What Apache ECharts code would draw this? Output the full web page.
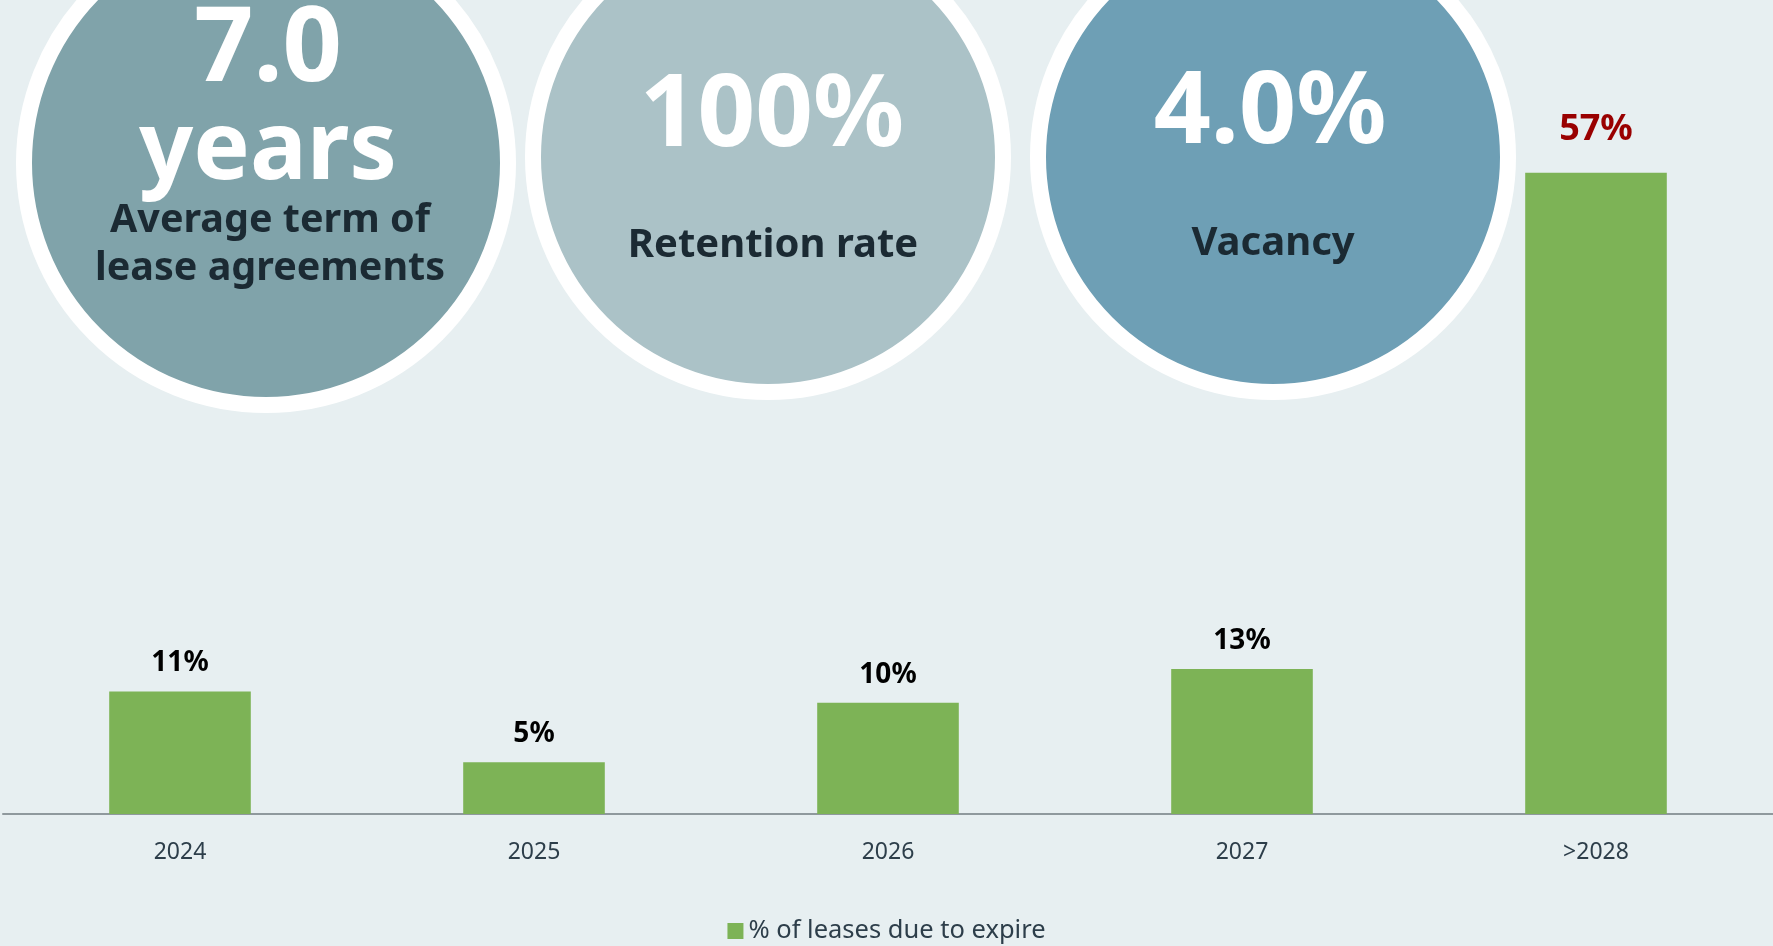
<!DOCTYPE html>
<html>
<head>
<meta charset="utf-8">
<script src="https://cdn.jsdelivr.net/npm/echarts@6/dist/echarts.min.js"></script>
<style>
  html, body { margin: 0; padding: 0; background: #e7eff1; }
  #chart { width: 1773px; height: 946px; }
</style>
</head>
<body>
<div id="chart"></div>
<script>
const categories = ['2024', '2025', '2026', '2027', '>2028'];
const leaseExpiry = [10.9, 4.6, 9.9, 12.9, 57.0];
const seriesName = '% of leases due to expire';

const kpiValues = ['7.0', '100%', '4.0%'];
const kpiUnits = ['years', '', ''];
const kpiLabels = [['Average term of', 'lease agreements'], ['Retention rate'], ['Vacancy']];

const font = '"Noto Sans", sans-serif';
const dark = '#1b2a33';

// circle badges across the top
const circles = [
  { cx: 266, cy: 163, r: 234, fill: '#80a3aa' },
  { cx: 768, cy: 157, r: 227, fill: '#abc2c7' },
  { cx: 1273, cy: 157, r: 227, fill: '#6e9fb5' }
];

const graphics = [];
circles.forEach(c => {
  graphics.push({
    type: 'circle', z: 1,
    shape: { cx: c.cx, cy: c.cy, r: c.r + 8 },
    style: { fill: c.fill, stroke: '#ffffff', lineWidth: 16 }
  });
});

function txt(text, x, y, size, color) {
  return { type: 'text', z: 2, style: { text: text, x: x, y: y, fill: color, font: 'bold ' + size + 'px ' + font, textAlign: 'center', textVerticalAlign: 'middle' } };
}

// 7.0 years
graphics.push(txt(kpiValues[0], 268, 51, 104, '#fff'));
graphics.push(txt(kpiUnits[0], 268, 152, 95, '#fff'));
graphics.push(txt(kpiLabels[0][0], 270, 221, 39.5, dark));
graphics.push(txt(kpiLabels[0][1], 270, 269, 39.5, dark));
// 100%
graphics.push(txt(kpiValues[1], 772, 117, 101, '#fff'));
graphics.push(txt(kpiLabels[1][0], 773, 246, 40, dark));
// 4.0%
graphics.push(txt(kpiValues[2], 1270, 115, 100, '#fff'));
graphics.push(txt(kpiLabels[2][0], 1273, 244, 40, dark));

const chart = echarts.init(document.getElementById('chart'));
chart.setOption({
  backgroundColor: '#e7eff1',
  animation: false,
  textStyle: { fontFamily: font },
  grid: { left: 3, right: -3, top: 139, bottom: 132 },
  legend: {
    data: [seriesName],
    left: 'center',
    top: 913,
    icon: 'rect',
    itemWidth: 16,
    itemHeight: 16,
    itemGap: 6,
    textStyle: { fontSize: 25.5, color: '#2d3e4a', fontFamily: font }
  },
  xAxis: {
    type: 'category',
    data: categories,
    axisTick: { show: false },
    axisLine: { lineStyle: { color: '#8f999d', width: 2 } },
    axisLabel: { fontSize: 23, color: '#2d3e4a', margin: 27, fontFamily: font }
  },
  yAxis: {
    type: 'value',
    min: 0,
    max: 60,
    show: false,
    splitLine: { show: false }
  },
  graphic: graphics,
  series: [{
    name: seriesName,
    type: 'bar',
    barWidth: '40%',
    itemStyle: { color: '#7db356' },
    label: {
      show: true,
      position: 'top',
      distance: 14,
      fontSize: 28,
      fontWeight: 'bold',
      color: '#000',
      fontFamily: font,
      formatter: p => Math.round(p.value) + '%'
    },
    data: leaseExpiry.map((v, i) => i === leaseExpiry.length - 1
      ? { value: v, label: { color: '#990000', fontSize: 36, distance: 25 } }
      : v)
  }]
});
</script>
</body>
</html>
